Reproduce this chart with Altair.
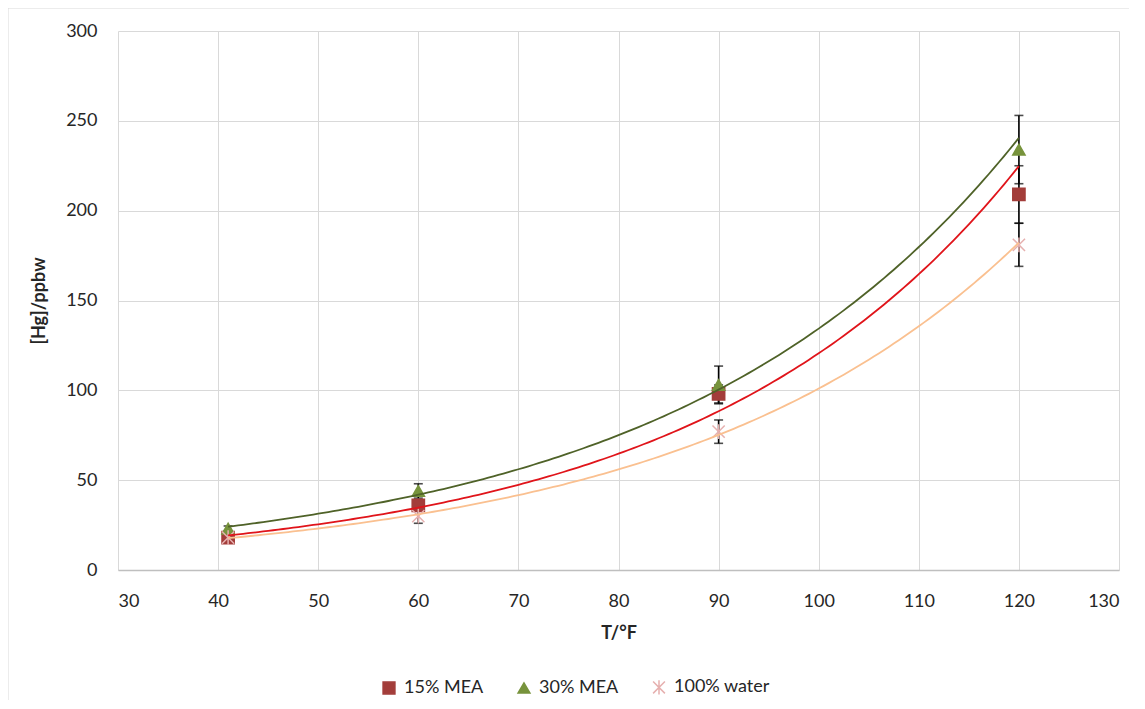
import altair as alt
import pandas as pd

# ---- data ----
temps = [41, 60, 90, 120]
series_names = ["15% MEA", "30% MEA", "100% water"]
mea15 = [18, 36, 98, 209]
mea15_err = [1, 3, 5, 16]
mea30 = [23, 44, 103, 234]
mea30_err = [1.5, 4, 10.5, 19]
water = [18, 30, 77, 181]
water_err = [1, 4, 6.5, 12]

x_ticks = [30, 40, 50, 60, 70, 80, 90, 100, 110, 120, 130]
y_ticks = [0, 50, 100, 150, 200, 250, 300]

marker_fill = ["#A33D3A", "#77933C", "#E6B0AF"]
marker_shapes = ["square", "triangle-up", "M-1,-1L1,1M-1,1L1,-1M0,-1.2L0,1.2"]
line_colors = ["#E0141A", "#4F6228", "#FAC090"]

rows = []
for name, vals, errs in [("15% MEA", mea15, mea15_err),
                         ("30% MEA", mea30, mea30_err),
                         ("100% water", water, water_err)]:
    for t, v, e in zip(temps, vals, errs):
        rows.append({"T": t, "Hg": v, "lo": v - e, "hi": v + e, "series": name})
df = pd.DataFrame(rows)

FONT = "Lato"
FS = 18

xenc = alt.X("T:Q", scale=alt.Scale(domain=[30, 130], nice=False),
             axis=alt.Axis(values=x_ticks, title="T/°F"))
yenc = alt.Y("Hg:Q", scale=alt.Scale(domain=[0, 300], nice=False),
             axis=alt.Axis(values=y_ticks, title="[Hg]/ppbw"))

base = alt.Chart(df)

err_rule = base.mark_rule(color="black", strokeWidth=1.6).encode(
    x=xenc, y=alt.Y("lo:Q"), y2="hi:Q")
cap_lo = base.mark_tick(color="black", thickness=1.6, size=9, orient="horizontal").encode(
    x=xenc, y=alt.Y("lo:Q"))
cap_hi = base.mark_tick(color="black", thickness=1.6, size=9, orient="horizontal").encode(
    x=xenc, y=alt.Y("hi:Q"))

leg = alt.Legend(title=None, orient="none", direction="horizontal",
                 legendX=262, legendY=647, columnPadding=31,
                 labelFontSize=FS, labelFont=FONT, labelColor="#262626",
                 symbolSize=140, symbolStrokeWidth=1.5, labelOffset=6)

points = base.mark_point(filled=True, size=150, strokeWidth=1.5, opacity=1).encode(
    x=xenc, y=yenc,
    fill=alt.Fill("series:N", scale=alt.Scale(domain=series_names, range=marker_fill), legend=leg),
    stroke=alt.Stroke("series:N", scale=alt.Scale(domain=series_names, range=marker_fill), legend=leg),
    shape=alt.Shape("series:N", scale=alt.Scale(domain=series_names, range=marker_shapes), legend=leg),
)

# Exponential trendline: least squares on ln(y), as a spreadsheet trendline does
trend = base.transform_calculate(
    lnHg="log(datum.Hg)"
).transform_joinaggregate(
    mx="mean(T)", my="mean(lnHg)", groupby=["series"]
).transform_calculate(
    pxy="(datum.T - datum.mx) * (datum.lnHg - datum.my)",
    pxx="(datum.T - datum.mx) * (datum.T - datum.mx)",
).transform_aggregate(
    Sxy="sum(pxy)", Sxx="sum(pxx)", MX="mean(mx)", MY="mean(my)", groupby=["series"]
).transform_calculate(
    Tfit="sequence(41, 120.25, 0.5)"
).transform_flatten(
    ["Tfit"]
).transform_calculate(
    Hgfit="exp(datum.MY + datum.Sxy / datum.Sxx * (datum.Tfit - datum.MX))"
).mark_line(strokeWidth=1.8).encode(
    x=alt.X("Tfit:Q"), y=alt.Y("Hgfit:Q"),
    color=alt.Color("series:N", scale=alt.Scale(domain=series_names, range=line_colors), legend=None),
    order="Tfit:Q",
)

border_df = pd.DataFrame({"k": [0]})
border_left = alt.Chart(border_df).mark_rule(color="#d9d9d9", strokeWidth=1).encode(
    x=alt.value(-110), y=alt.value(-23), y2=alt.value(800))
border_top = alt.Chart(border_df).mark_rule(color="#d9d9d9", strokeWidth=1).encode(
    x=alt.value(-110), x2=alt.value(1200), y=alt.value(-23))

chart = alt.layer(
    border_left, border_top, err_rule, cap_lo, cap_hi, points, trend
).properties(
    width=1001, height=539,
    padding={"left": 110, "top": 23, "right": 10, "bottom": 130},
    autosize=alt.AutoSizeParams(type="none"),
).configure_view(
    stroke=None
).configure_axis(
    gridColor="#d9d9d9", gridWidth=1, ticks=False, domain=False,
    labelFont=FONT, labelFontSize=FS, labelColor="#262626",
    titleFont=FONT, titleFontSize=FS, titleFontWeight="bold", titleColor="#262626",
).configure_axisX(
    domain=True, domainColor="#bfbfbf", domainWidth=1.3,
    labelPadding=22, titlePadding=14,
).configure_axisY(
    labelPadding=21, titlePadding=17,
)

chart.save("out.html", embed_options={"renderer": "svg", "actions": False})
